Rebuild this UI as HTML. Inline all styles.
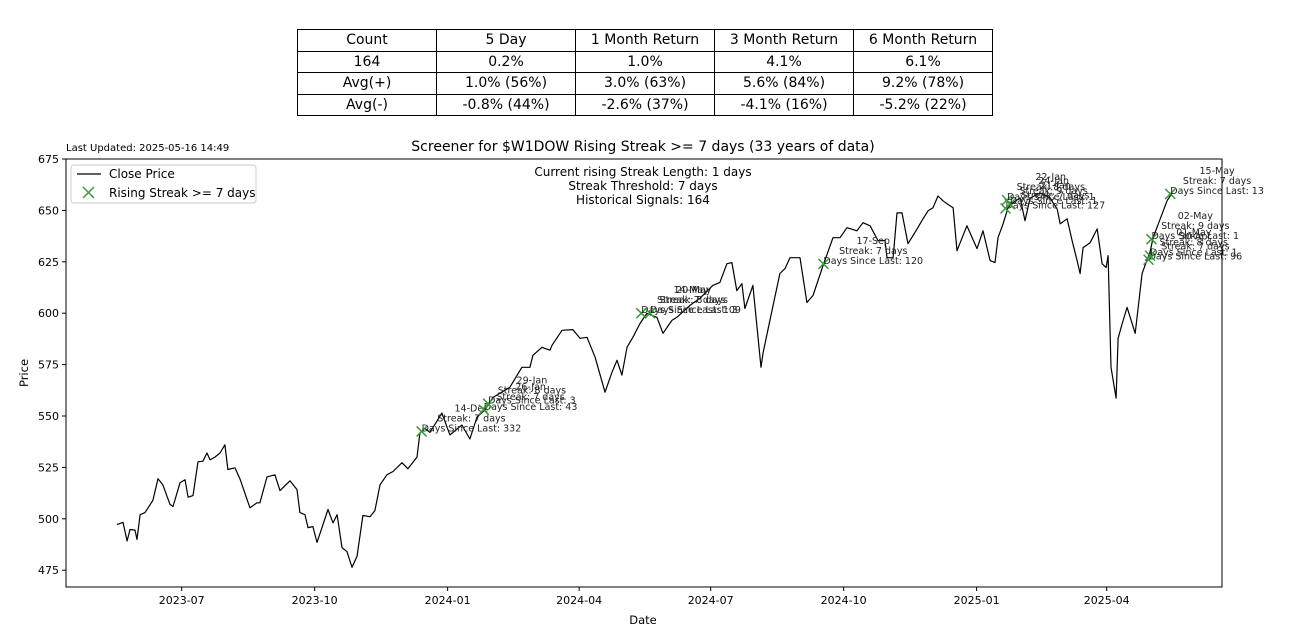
<!DOCTYPE html>
<html><head><meta charset="utf-8"><style>
body{margin:0;background:#fff;font-family:"DejaVu Sans","Liberation Sans",sans-serif;}
#wrap{position:relative;width:1292px;height:634px;overflow:hidden;}
table{position:absolute;left:297px;top:29px;border-collapse:collapse;font-size:14px;}
td{border:1px solid #000;width:138px;height:20.5px;padding:0;text-align:center;line-height:20px;}
</style></head><body><div id="wrap">
<table>
<tr><td>Count</td><td>5 Day</td><td>1 Month Return</td><td>3 Month Return</td><td>6 Month Return</td></tr>
<tr><td>164</td><td>0.2%</td><td>1.0%</td><td>4.1%</td><td>6.1%</td></tr>
<tr><td>Avg(+)</td><td>1.0% (56%)</td><td>3.0% (63%)</td><td>5.6% (84%)</td><td>9.2% (78%)</td></tr>
<tr><td>Avg(-)</td><td>-0.8% (44%)</td><td>-2.6% (37%)</td><td>-4.1% (16%)</td><td>-5.2% (22%)</td></tr>
</table>
<svg id="svg" width="1292" height="634" style="position:absolute;left:0;top:0" font-family="DejaVu Sans, Liberation Sans, sans-serif">
<text x="66" y="151" font-size="10">Last Updated: 2025-05-16 14:49</text>
<text x="643" y="151" font-size="14" text-anchor="middle">Screener for $W1DOW Rising Streak &gt;= 7 days (33 years of data)</text>
<text x="643" y="624" font-size="11.5" text-anchor="middle">Date</text>
<text x="28" y="373" font-size="11.5" text-anchor="middle" transform="rotate(-90 28 373)">Price</text>
<g id="plot"></g>
<g font-size="12" text-anchor="middle">
<text x="643" y="176">Current rising Streak Length: 1 days</text>
<text x="643" y="190">Streak Threshold: 7 days</text>
<text x="643" y="204">Historical Signals: 164</text>
</g>
<g>
<rect x="71" y="165" width="185" height="38" rx="3" fill="#fff" stroke="#ccc"/>
<line x1="77" y1="174" x2="101" y2="174" stroke="#000" stroke-width="1.3"/>
<text x="109" y="178" font-size="12">Close Price</text>
<path d="M83,187 L94,198 M94,187 L83,198" stroke="#3a9a3a" stroke-width="1.5"/>
<text x="109" y="197" font-size="12">Rising Streak &gt;= 7 days</text>
</g>
</svg>
<script>
const days=[-44.8,-40.6,-37.8,-35.8,-32.3,-30.9,-28.8,-25.4,-19.9,-16.4,-13,-8.1,-6,-1.2,2.3,4.4,7.8,11.3,14.7,17.5,19.6,23,26.5,29.9,32,36.8,40.3,47.2,52.1,54.1,59,64.5,68,74.9,79.8,81.8,85.3,87.4,90.8,93.6,97.1,101.2,104.7,107.5,110.9,114.4,117.8,121.3,125.4,130.3,133.7,137.2,142,146.2,152.4,156.5,162.8,164.8,168.3,171.7,180,185.6,193.9,199.4,204.3,209.8,215.3,227.1,235.4,240.9,243,249.2,254.8,256.2,263.1,270.7,275.6,280.4,286,292.9,297.7,301.2,304.6,308.1,312.2,317.1,321.9,328.8,333,339.2,342.6,351.6,358.5,367.5,372.4,377.2,380.7,384.1,387.6,389.7,395.2,400.8,402.2,407,413.9,417.4,420.9,427.8,432.6,436.8,443.7,450.6,455.5,460.3,467.2,471.4,476.3,481.8,486.6,488,492.2,494.9,498.4,502.5,508.8,512.9,516.4,519.8,523.3,526.7,529.5,533.7,536.4,543.3,550.3,554.4,559.3,562.7,564.8,568.3,571.7,575.2,580.1,583.5,587,593.9,600.8,605.7,607.8,612.6,616.1,619.5,621.6,623.7,628.5,633.4,636.8,639.6,641,643,646.5,647.9,650.7,654.1,659.7,664.5,670,672.1,681.8,685.3];
const prices=[497.2,498.3,489.2,494.8,494.5,490,502,503,509,519.5,516.5,507,506,517.5,519,510.5,511.3,527.7,528,532,528.7,530,532,536,524,524.8,519.5,505.4,507.8,507.8,520.4,521.4,513.7,518.5,514.2,503,502,495.7,496.2,488.5,495.7,504.5,498,502,486,484,476.4,481.7,501.6,501,504,516.5,521.4,523,527.3,524.3,530,541.7,544,542,551.4,540.8,545.6,538.8,549.5,552.9,559,564,573.7,573.7,579.5,583.4,582,584.4,591.7,592,587.8,588.3,578.6,561.6,571.3,577.1,569.9,583.4,588.3,595,599.9,598,590.2,596.5,598,603.8,607.2,613.5,615,624.1,624.6,611,614.4,602.3,613.5,573.7,580.5,596.5,619.3,621.7,627,627,605.2,608.6,623.1,636.7,636.7,641.6,640.1,644,642.5,635.3,635.3,627,627,648.8,648.8,633.8,641,645.9,649.8,651.3,657,654.7,653.2,651.3,630.4,642.5,631.4,640.1,625.6,624.6,636.7,643.5,651.3,653.7,656.1,645,656,658.5,656,650.8,643.5,645.9,635.3,625.6,619.3,631.9,634.3,641,624.1,622.2,628,573.7,558.7,587.8,595,602.8,590.2,619.3,629.9,636.7,654.7,658.5];
const sigDays=[166,209,212,318,324,444,570,571,573,669,670,671,684];
const sigPrices=[542.5,553,556,600,600,624,651,655,653,626,628,636,658];
const sigLabels=["14-Dec","26-Jan","29-Jan","14-May","20-May","17-Sep","21-Jan","22-Jan","24-Jan","30-Apr","01-May","02-May","15-May"];
const sigStreaks=[7,7,8,7,8,7,7,8,9,7,8,9,7];
const sigSince=[332,43,3,109,3,120,127,1,1,96,1,1,13];
const yTicks=[475,500,525,550,575,600,625,650,675];
const xTickDays=[0,92,184,275,366,458,550,640];
const xTickLabels=["2023-07","2023-10","2024-01","2024-04","2024-07","2024-10","2025-01","2025-04"];
const L=66,R=1222,T=159,B=587;
const X=d=>181.7+d*1.4453;
const Y=p=>159+(675-p)*2.056;
const NS="http://www.w3.org/2000/svg";
const g=document.getElementById('plot');
function mk(t,a){const e=document.createElementNS(NS,t);for(const k in a)e.setAttribute(k,a[k]);g.appendChild(e);return e;}
const frame=mk('rect',{x:L,y:T,width:R-L,height:B-T,fill:'none',stroke:'#000','stroke-width':1});


yTicks.forEach(v=>{const y=Y(v);mk('line',{x1:L-4,y1:y,x2:L,y2:y,stroke:'#000'});
const t=mk('text',{x:L-7,y:y+4,'font-size':11,'text-anchor':'end'});t.textContent=v;

});
xTickDays.forEach((d,i)=>{const x=X(d);mk('line',{x1:x,y1:B,x2:x,y2:B+4,stroke:'#000'});
const t=mk('text',{x:x,y:B+17,'font-size':11,'text-anchor':'middle'});t.textContent=xTickLabels[i];

});
const line=mk('polyline',{points:days.map((d,i)=>X(d).toFixed(1)+','+Y(prices[i]).toFixed(1)).join(' '),fill:'none',stroke:'#000','stroke-width':1.2,'stroke-linejoin':'round'});


sigDays.forEach((d,i)=>{const x=X(d),y=Y(sigPrices[i]);
const m=mk('path',{d:`M${x-5},${y-5}L${x+5},${y+5}M${x+5},${y-5}L${x-5},${y+5}`,stroke:'#3a9a3a','stroke-width':1.5});


const lines=[sigLabels[i],'Streak: '+sigStreaks[i]+' days','Days Since Last: '+sigSince[i]];
const ts=lines.map((s,j)=>{const t=mk('text',{x:x,y:y-20+j*10,'font-size':9.5,fill:'#222'});t.textContent=s;return t;});
const w=Math.max(...ts.map(t=>t.getComputedTextLength()));
ts.forEach(t=>{t.setAttribute('x',x+w/2);t.setAttribute('text-anchor','middle');});
ts.forEach(t=>{
});
});
</script>
</div></body></html>
